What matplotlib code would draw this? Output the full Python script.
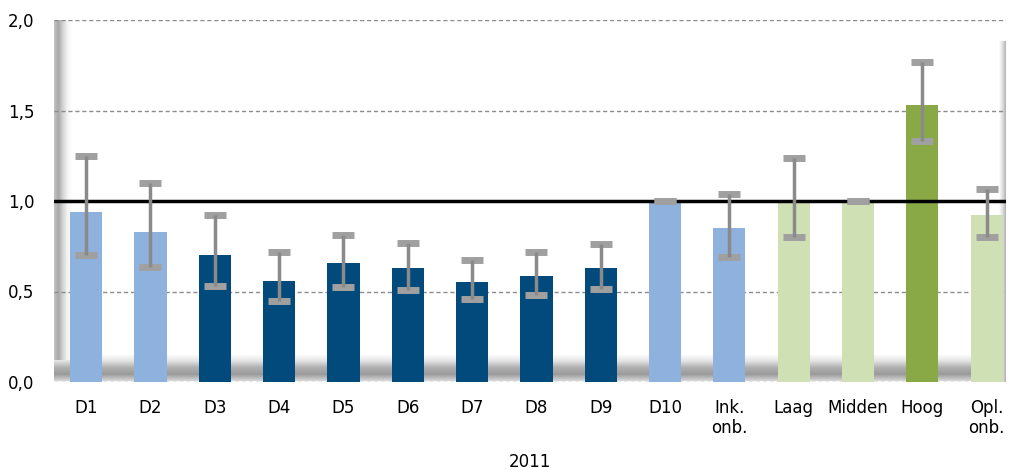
import numpy as np
import matplotlib.pyplot as plt
from matplotlib.colors import LinearSegmentedColormap

DPI = 100

categories = ['D1', 'D2', 'D3', 'D4', 'D5', 'D6', 'D7', 'D8', 'D9', 'D10',
              'Ink.\nonb.', 'Laag', 'Midden', 'Hoog', 'Opl.\nonb.']
values = [0.94, 0.83, 0.70, 0.56, 0.66, 0.63, 0.55, 0.585, 0.63, 1.00,
          0.85, 1.00, 1.00, 1.53, 0.92]
err_low = [0.70, 0.635, 0.53, 0.45, 0.525, 0.51, 0.46, 0.48, 0.515, 1.00,
           0.69, 0.80, 1.00, 1.33, 0.80]
err_high = [1.25, 1.10, 0.92, 0.72, 0.81, 0.77, 0.675, 0.72, 0.76, 1.00,
            1.04, 1.24, 1.00, 1.77, 1.065]
groups = ['light', 'light', 'dark', 'dark', 'dark', 'dark', 'dark', 'dark', 'dark', 'light',
          'light', 'lgreen', 'lgreen', 'green', 'lgreen']
year_label = '2011'

palette = {'light': '#8eb1de', 'dark': '#024a7b', 'lgreen': '#d0e0b5', 'green': '#88a946'}

fig = plt.figure(figsize=(1009 / DPI, 470 / DPI), dpi=DPI)
ax = fig.add_axes([54 / 1009, 88 / 470, 952 / 1009, 362 / 470])

x = np.arange(len(categories))
x0, x1 = -0.5, len(categories) - 0.7
span = x1 - x0

# 3D-ish floor and walls (gradients, drawn in data coords)
grad = np.linspace(0, 1, 200)
floor_cmap = LinearSegmentedColormap.from_list(
    'floor', ['#d8d8d8', '#9a9a9a', '#b0b0b0', '#e4e4e4', '#ffffff'])
ax.imshow(grad.reshape(-1, 1), cmap=floor_cmap, aspect='auto', origin='lower',
          extent=(x0, x1, 0.005, 0.15), interpolation='bilinear', zorder=0.5)
wall_cmap = LinearSegmentedColormap.from_list(
    'wall', ['#c4c4c4', '#a8a8a8', '#d4d4d4', '#f4f4f4', '#ffffff'])
ax.imshow(grad.reshape(1, -1), cmap=wall_cmap, aspect='auto', origin='lower',
          extent=(x0, x0 + 0.018 * span, 0.12, 2.0), interpolation='bilinear', zorder=0.6)
rwall_cmap = LinearSegmentedColormap.from_list(
    'rwall', ['#ffffff', '#e0e0e0', '#b0b0b0'])
ax.imshow(grad.reshape(1, -1), cmap=rwall_cmap, aspect='auto', origin='lower',
          extent=(x1 - 0.007 * span, x1, 0.0, 1.88), interpolation='bilinear', zorder=0.6)

# grid lines
for g in [0.0, 0.5, 1.5, 2.0]:
    ax.axhline(g, color='#8c8c8c', lw=1, ls=(0, (3, 2)), zorder=1)

ax.bar(x, values, width=0.5, color=[palette[g] for g in groups], zorder=2)

ax.axhline(1.0, color='black', lw=2.5, zorder=3)

# error bars: light caps, darker stems
mid = [(lo + hi) / 2 for lo, hi in zip(err_low, err_high)]
half = [(hi - lo) / 2 for lo, hi in zip(err_low, err_high)]
ax.errorbar(x, mid, yerr=half, fmt='none', ecolor='#a0a0a0', elinewidth=0,
            capsize=8, capthick=5, zorder=4)
ax.vlines(x, err_low, err_high, color='#8a8a8a', lw=2.5, zorder=5)

ax.set_xlim(x0, x1)
ax.set_ylim(0, 2.0)

for s in ax.spines.values():
    s.set_visible(False)

ax.set_xticks(x)
ax.set_xticklabels(categories, fontsize=12, linespacing=1.15, va='top')
ax.set_yticks([0, 0.5, 1.0, 1.5, 2.0])
ax.set_yticklabels(['0,0', '0,5', '1,0', '1,5', '2,0'], fontsize=12)
ax.tick_params(axis='x', length=0, pad=12)
ax.tick_params(axis='y', length=0, pad=14)

fig.text(530 / 1009, 8 / 470, year_label, ha='center', va='center', fontsize=12)

fig.savefig('out.png', dpi=DPI)
